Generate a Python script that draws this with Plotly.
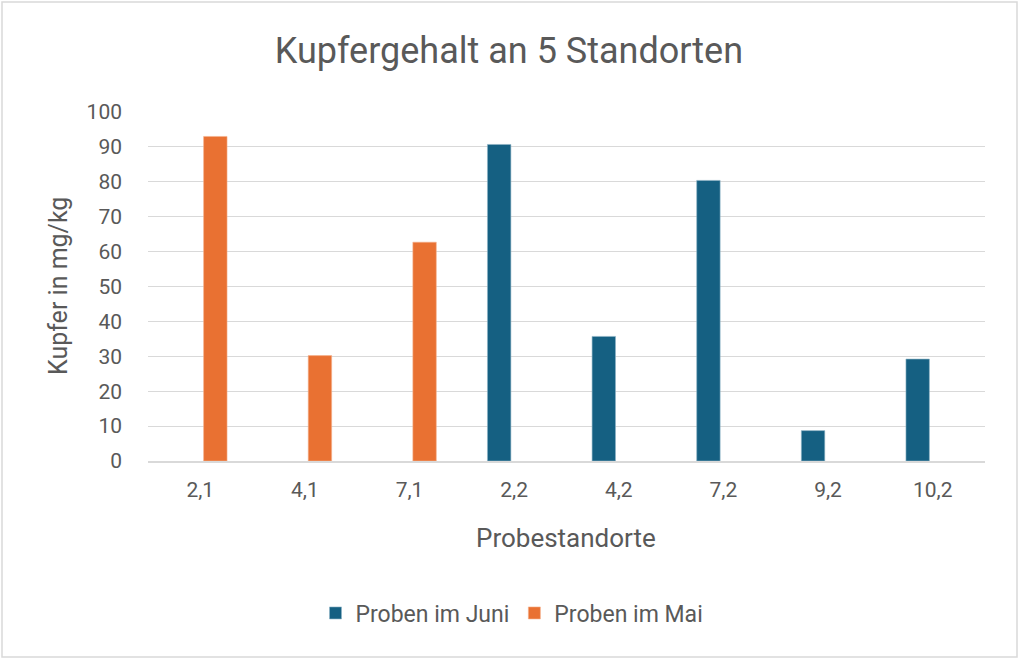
import plotly.graph_objects as go

categories = ["2,1", "4,1", "7,1", "2,2", "4,2", "7,2", "9,2", "10,2"]
juni_values = [None, None, None, 90.7, 35.7, 80.4, 8.7, 29.2]
mai_values = [93.0, 30.2, 62.7, None, None, None, None, None]
y_ticks = [0, 10, 20, 30, 40, 50, 60, 70, 80, 90, 100]

FONT = "Roboto, 'Open Sans', sans-serif"
TXT = "#595959"
BLUE = "#156082"
ORANGE = "#E97132"

PL, PR, PT, PB = 148, 985, 112, 461
PW, PH = PR - PL, PB - PT


def px(x):
    return (x - PL) / PW


def py(y):
    return (PB - y) / PH


fig = go.Figure()
fig.add_trace(go.Bar(x=categories, y=juni_values, name="Proben im Juni",
                     marker=dict(color=BLUE, line=dict(color="#8fb3c6", width=0.6))))
fig.add_trace(go.Bar(x=categories, y=mai_values, name="Proben im Mai",
                     marker=dict(color=ORANGE, line=dict(color="#f5b08c", width=0.6))))

fig.update_layout(
    width=1024, height=664,
    paper_bgcolor="white", plot_bgcolor="white",
    margin=dict(l=PL, r=1024 - PR, t=PT, b=664 - PB),
    barmode="group", bargap=0.426, bargroupgap=0.22,
    font=dict(family=FONT, color=TXT, size=18),
    title=dict(text="Kupfergehalt an 5 Standorten", xref="container", x=0.497,
               yref="container", y=1 - 50 / 664, xanchor="center", yanchor="middle",
               font=dict(family=FONT, size=36, color=TXT)),
    showlegend=True,
    legend=dict(orientation="h", xref="container", yref="container",
                x=0.5, y=1 - 613 / 664, xanchor="center", yanchor="middle",
                font=dict(family=FONT, size=23, color=TXT), itemwidth=30,
                traceorder="normal"),
    xaxis=dict(type="category", showgrid=False, showline=True, linecolor="#d9d9d9",
               linewidth=1.5, ticks="", tickfont=dict(size=21, color=TXT),
               ticklabelstandoff=9),
    yaxis=dict(range=[0, 100], tickvals=y_ticks, showgrid=True, gridcolor="#d9d9d9",
               gridwidth=1.2, zeroline=False, showline=False, ticks="",
               tickfont=dict(size=21, color=TXT), ticklabelstandoff=25),
    annotations=[
        dict(text="Probestandorte", xref="paper", yref="paper", x=px(566),
             y=py(538), xanchor="center", yanchor="middle", showarrow=False,
             font=dict(family=FONT, size=26, color=TXT)),
        dict(text="Kupfer in mg/kg", xref="paper", yref="paper", x=px(58),
             y=py(286), xanchor="center", yanchor="middle", showarrow=False,
             textangle=-90, font=dict(family=FONT, size=25, color=TXT)),
    ],
)
# chart-area border
fig.add_shape(type="rect", xref="paper", yref="paper",
              x0=px(2), x1=px(1017), y0=py(657), y1=py(2),
              line=dict(color="#d9d9d9", width=1.5), layer="below")

fig.write_html("out.html", config={"displayModeBar": False},
               post_script="document.body.style.margin='0';")
